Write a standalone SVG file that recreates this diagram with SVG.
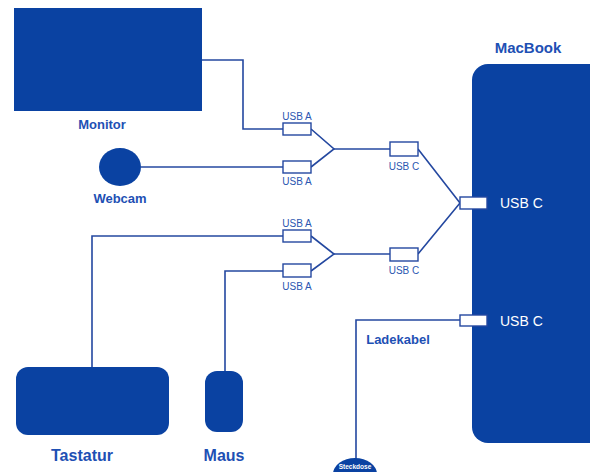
<svg xmlns="http://www.w3.org/2000/svg" width="590" height="472" viewBox="0 0 590 472">
<style>
.dev{fill:#0A42A2}
.lbl{font-family:"Liberation Sans",Arial,sans-serif;font-weight:bold;fill:#1E50B4;font-size:13px;text-anchor:middle}
.sm{font-family:"Liberation Sans",Arial,sans-serif;fill:#2A56B0;font-size:10px;text-anchor:middle}
.wh{font-family:"Liberation Sans",Arial,sans-serif;fill:#ffffff;font-size:14px}
.wire{fill:none;stroke:#2448A0;stroke-width:1.6}
.port{fill:#ffffff;stroke:#2448A0;stroke-width:1.4}
</style>
<rect width="590" height="472" fill="#ffffff"/>
<g id="connectors">
<polyline class="wire" points="202,60 243,60 243,129 283,129"/>
<line class="wire" x1="141" y1="167" x2="283" y2="167"/>
<polyline class="wire" points="311,129 334,149 311,167"/>
<line class="wire" x1="334" y1="149" x2="390" y2="149"/>
<polyline class="wire" points="92,367 92,236 283,236"/>
<polyline class="wire" points="225,371 225,271 283,271"/>
<polyline class="wire" points="311,236 334,254 311,271"/>
<line class="wire" x1="334" y1="254" x2="390" y2="254"/>
<polyline class="wire" points="418,149 460,203 418,254"/>
<polyline class="wire" points="460,320 356,320 356,460"/>
</g>
<g id="monitor">
<rect class="dev" x="14" y="8" width="188" height="103"/>
<text class="lbl" x="102" y="129">Monitor</text>
</g>
<g id="webcam">
<ellipse class="dev" cx="120" cy="167" rx="21" ry="19"/>
<text class="lbl" x="120" y="203">Webcam</text>
</g>
<g id="tastatur">
<rect class="dev" x="16" y="367" width="153" height="68" rx="12"/>
<text class="lbl" x="82" y="461" style="font-size:16px">Tastatur</text>
</g>
<g id="maus">
<rect class="dev" x="205" y="371" width="38" height="61" rx="12"/>
<text class="lbl" x="224" y="461" style="font-size:16px">Maus</text>
</g>
<g id="macbook">
<rect class="dev" x="472" y="64" width="140" height="379" rx="16"/>
<text class="lbl" x="528" y="53" style="font-size:15px">MacBook</text>
<rect class="port" x="460" y="197" width="27" height="12"/>
<text class="wh" x="500" y="208">USB C</text>
<rect class="port" x="460" y="315" width="27" height="11"/>
<text class="wh" x="500" y="326">USB C</text>
</g>
<g id="usb-a-1">
<rect class="port" x="283" y="123" width="28" height="12"/>
<text class="sm" x="297" y="120">USB A</text>
</g>
<g id="usb-a-2">
<rect class="port" x="283" y="161" width="28" height="12"/>
<text class="sm" x="297" y="185">USB A</text>
</g>
<g id="usb-c-1">
<rect class="port" x="390" y="142" width="28" height="14"/>
<text class="sm" x="404" y="170">USB C</text>
</g>
<g id="usb-a-3">
<rect class="port" x="283" y="230" width="28" height="12"/>
<text class="sm" x="297" y="227">USB A</text>
</g>
<g id="usb-a-4">
<rect class="port" x="283" y="264" width="28" height="13"/>
<text class="sm" x="297" y="290">USB A</text>
</g>
<g id="usb-c-2">
<rect class="port" x="390" y="248" width="28" height="13"/>
<text class="sm" x="404" y="274">USB C</text>
</g>
<g id="ladekabel">
<text class="lbl" x="398" y="344">Ladekabel</text>
</g>
<g id="steckdose">
<ellipse class="dev" cx="355" cy="474" rx="22" ry="16"/>
<text x="355" y="469" style="font-family:'Liberation Sans',Arial,sans-serif;font-weight:bold;font-size:6.5px;fill:#ffffff;text-anchor:middle">Steckdose</text>
</g>
</svg>
